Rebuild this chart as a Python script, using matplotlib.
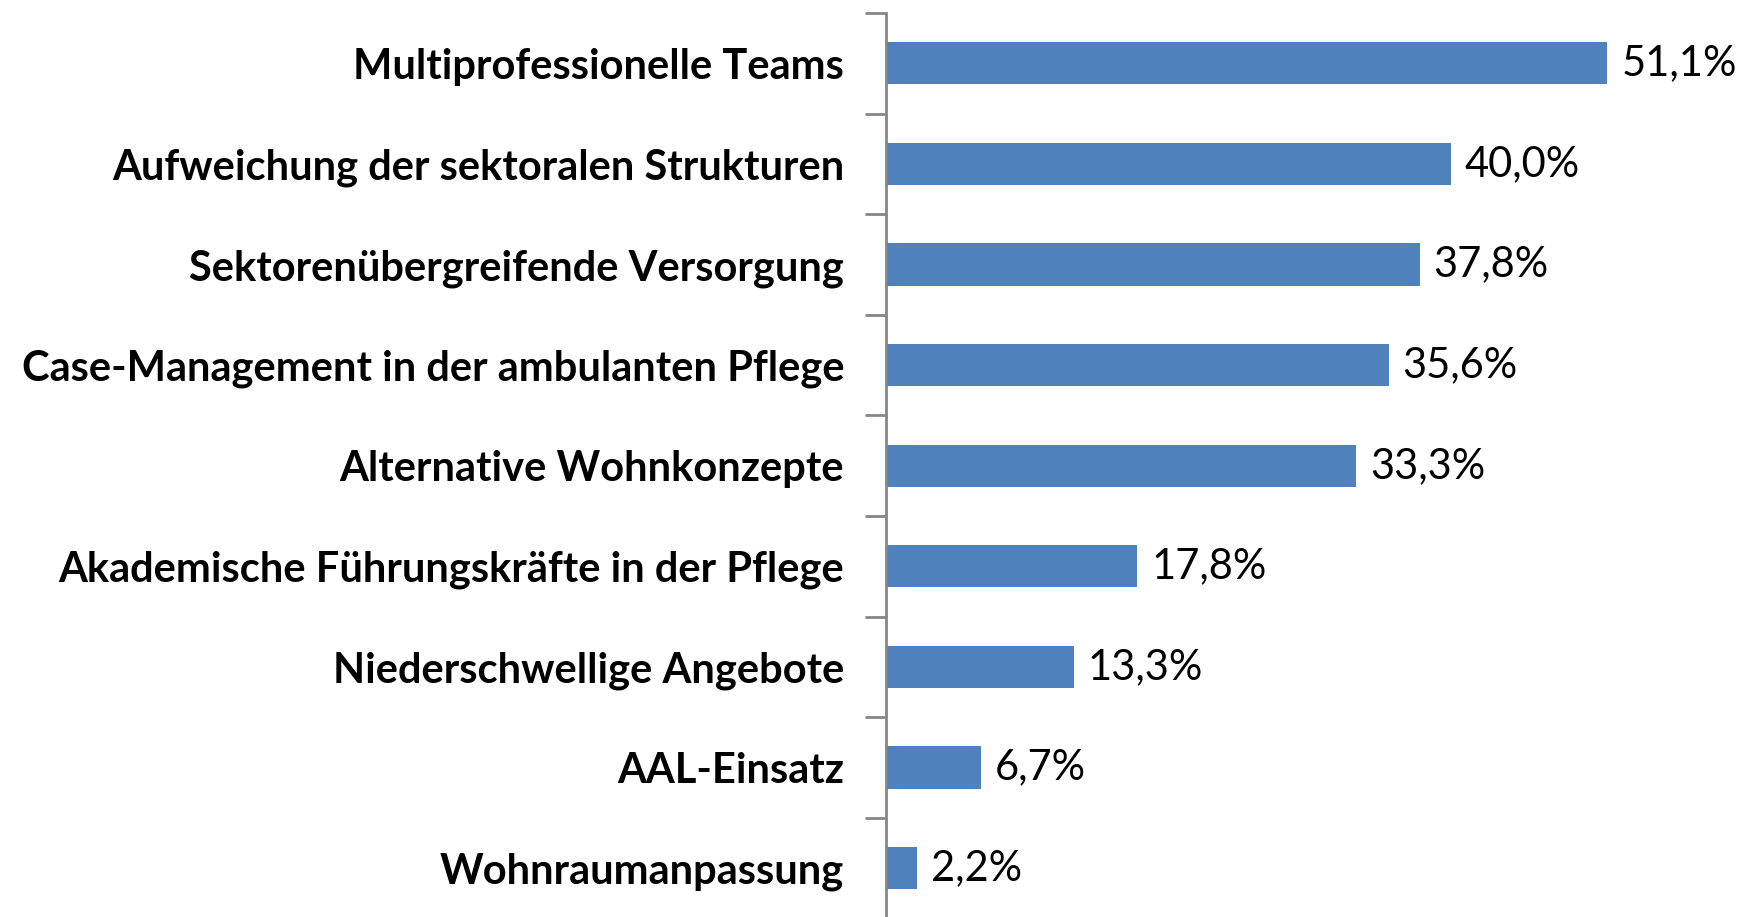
import matplotlib.pyplot as plt
import numpy as np

categories = ['Multiprofessionelle Teams',
              'Aufweichung der sektoralen Strukturen',
              'Sektorenübergreifende Versorgung',
              'Case-Management in der ambulanten Pflege',
              'Alternative Wohnkonzepte',
              'Akademische Führungskräfte in der Pflege',
              'Niederschwellige Angebote',
              'AAL-Einsatz',
              'Wohnraumanpassung']
values = [51.1, 40.0, 37.8, 35.6, 33.3, 17.8, 13.3, 6.7, 2.2]

plt.rcParams['font.family'] = ['Lato', 'DejaVu Sans']

fig = plt.figure(figsize=(17.47, 9.17), dpi=100)
ax = fig.add_axes([886 / 1747, -1.5 / 917, (1733 - 886) / 1747, (918.5 - 13) / 917])

pos = np.arange(len(categories))
ax.barh(pos, values, height=0.42, color='#4F81BD')
ax.set_xlim(0, 60)
ax.set_ylim(len(categories) - 0.5, -0.5)

# value labels, german decimal comma
for y, v in zip(pos, values):
    ax.text(v + 1.0, y, ('%.1f%%' % v).replace('.', ','), va='center', ha='left',
            fontsize=30, color='black')

ax.set_yticks(pos)
ax.set_yticklabels(categories, fontsize=30, fontweight='bold')
ax.tick_params(axis='y', which='major', length=0, pad=30)
ax.set_yticks(np.arange(len(categories)) - 0.5, minor=True)
ax.tick_params(axis='y', which='minor', length=15, width=2, color='#868686')

ax.set_xticks([])
for s in ['top', 'right', 'bottom']:
    ax.spines[s].set_visible(False)
ax.spines['left'].set_color('#868686')
ax.spines['left'].set_linewidth(2)

fig.savefig('out.png', dpi=100)
